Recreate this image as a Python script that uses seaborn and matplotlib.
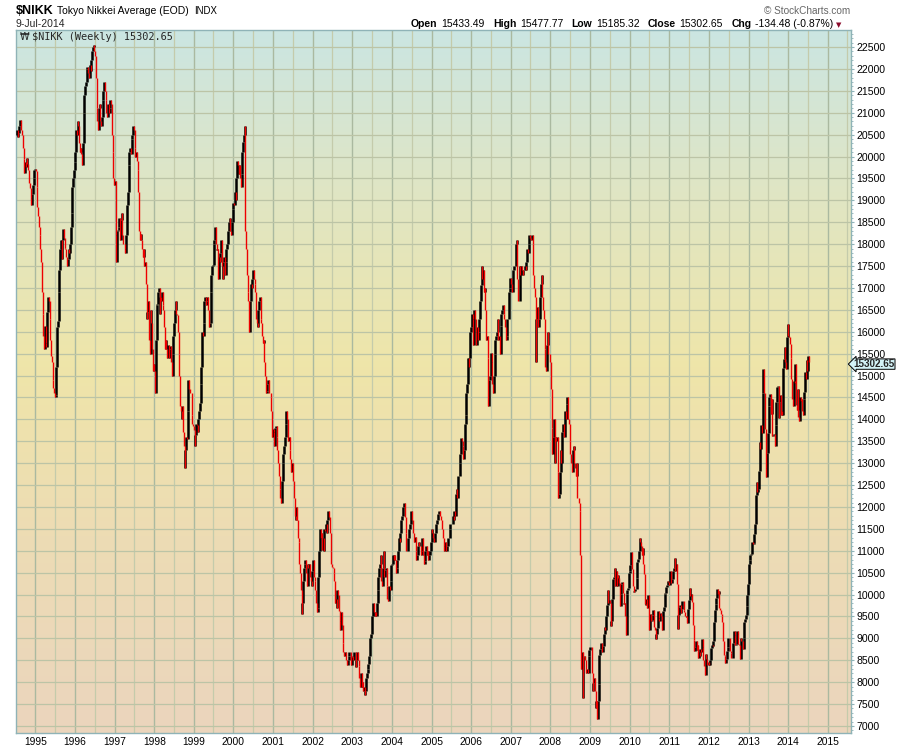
import numpy as np
import pandas as pd
import seaborn as sns
import matplotlib
matplotlib.use('Agg')
import matplotlib.pyplot as plt
import matplotlib.dates as mdates
from matplotlib.colors import LinearSegmentedColormap
from matplotlib.ticker import MultipleLocator

# header texts
SYMBOL = '$NIKK'
NAME = 'Tokyo Nikkei Average (EOD)'
EXCHANGE = 'INDX'
AS_OF = '9-Jul-2014'
COPYRIGHT = '\u00a9 StockCharts.com'
quote_labels = ['Open', 'High', 'Low', 'Close', 'Chg']
quote_values = ['15433.49', '15477.77', '15185.32', '15302.65', '-134.48 (-0.87%)']
series_label = '$NIKK (Weekly) 15302.65'
last_price_text = '15302.65'

# weekly closes (first week ends 1994-07-15, last 2014-07-11)
first_open = 20500
close_1994 = [20610, 20450, 20530, 20690, 20830, 20760, 20600, 20500, 20200, 19950, 19620, 19880,
              19750, 19960, 19820, 19690, 19400, 19280, 19050, 18900, 19150, 19360, 19520, 19700, 19723]
close_1995 = [19680, 19300, 18840, 18650, 18400, 18200, 17900, 17600, 16900, 16400, 15900, 15600, 16140,
              15750, 15650, 16450, 16800, 16700, 16300, 15800, 15450, 15300, 14900, 14720, 14600, 14520,
              14550, 15200, 16100, 16250, 16900, 17400, 17900, 18100, 17650, 18100, 18350, 18150, 17910,
              17900, 17700, 17500, 17650, 17900, 17800, 18000, 18400, 18700, 19300, 19500, 19700, 19868]
close_1996 = [20100, 20600, 20500, 20800, 20700, 20300, 20100, 20200, 20050, 19800, 20300, 21000, 21400,
              21600, 21700, 22000, 22050, 21900, 21800, 22100, 21950, 22200, 22400, 22500, 22550, 22400,
              22300, 21800, 21100, 20800, 20600, 21100, 21200, 20800, 20700, 20900, 21300, 21500, 21700,
              21500, 21300, 21000, 20900, 21200, 21000, 21100, 21300, 21200, 20500, 20100, 19500, 19361]
close_1997 = [19446, 18200, 17600, 18300, 18330, 18400, 18600, 18100, 18550, 18700, 18200, 18000, 18003,
              17900, 17800, 18200, 18900, 19200, 19800, 20100, 20200, 20068, 20400, 20500, 20700, 20600,
              20200, 20000, 20100, 19900, 19700, 19200, 18300, 18100, 18230, 18100, 17900, 17700, 17900,
              17500, 17600, 17100, 16300, 16450, 16700, 15800, 15500, 16500, 16200, 15600, 15100, 15258]
close_1998 = [15100, 14600, 15800, 16600, 16628, 16900, 17000, 16400, 16800, 16700, 16900, 16600, 16500,
              16100, 15600, 15800, 15600, 15400, 15700, 15400, 15600, 15670, 15300, 15000, 15500, 15900,
              16200, 16500, 16700, 16400, 16380, 16000, 15500, 15000, 14300, 14200, 14000, 14300, 13700,
              13400, 12900, 13300, 13600, 13560, 14200, 14900, 14700, 14600, 14600, 14100, 13900, 13842]
close_1999 = [13750, 13400, 13650, 13900, 13860, 13700, 14000, 14200, 14370, 14800, 15200, 16000, 15900,
              16200, 16700, 16800, 16600, 16700, 16800, 16500, 16100, 16200, 16900, 17300, 17500, 17530,
              18000, 18100, 18400, 18000, 17860, 17900, 17200, 17700, 17600, 17800, 18100, 17500, 17200,
              17600, 17700, 17300, 17600, 17900, 18000, 18300, 18500, 18600, 18300, 18200, 18500, 18800, 18934]
close_2000 = [18900, 19200, 19000, 19500, 19900, 19800, 19600, 19800, 19500, 19300, 19600, 20100, 20337,
              20500, 20700, 18300, 17900, 17300, 16900, 16700, 16000, 16700, 17100, 17000, 17200, 17411,
              17200, 17100, 16900, 16300, 16200, 16100, 16500, 16700, 16800, 16300, 16200, 15900, 15747,
              15800, 15300, 15000, 14600, 14650, 14800, 14900, 14600, 14600, 14500, 14200, 13600, 13786]
close_2001 = [13700, 13400, 13800, 13850, 13600, 13300, 13000, 12700, 12400, 12200, 12100, 12600, 12999,
              13200, 13400, 13600, 13900, 14200, 14000, 13500, 13600, 13300, 13100, 12800, 13000, 12969,
              12600, 12200, 11800, 11700, 12000, 11700, 11300, 11200, 10700, 10500, 10100, 9550, 9800,
              10300, 10600, 10700, 10800, 10500, 10200, 10700, 10600, 10700, 10400, 10300, 10200, 10543]
close_2002 = [10800, 10400, 10300, 10100, 9800, 9600, 9700, 10400, 11000, 11500, 11300, 11400, 11025,
              11300, 11000, 11500, 11450, 11600, 11400, 11700, 11900, 11764, 11400, 11000, 10700, 10621,
              10600, 10500, 10300, 9800, 9900, 9700, 10100, 10000, 9620, 9400, 9200, 9600, 9300,
              8900, 8700, 8600, 8700, 8700, 8500, 8400, 8500, 8600, 8700, 8700, 8400, 8578]
close_2003 = [8600, 8500, 8700, 8700, 8340, 8500, 8700, 8500, 8360, 8100, 7900, 8200, 7900,
              8000, 7800, 7900, 7700, 7800, 8100, 8200, 8300, 8425, 8600, 9000, 9100, 9100,
              9500, 9800, 9600, 9500, 9600, 9500, 9800, 10100, 10400, 10600, 10700, 10900, 10300,
              10200, 10600, 11000, 10400, 10560, 10600, 10200, 9900, 9850, 10200, 10100, 10300, 10676]
close_2004 = [10700, 10900, 10800, 10900, 10780, 10500, 10600, 10800, 11000, 11300, 11200, 11400, 11700,
              11800, 12000, 12000, 12100, 11760, 11400, 11000, 11000, 11300, 11500, 11500, 11600, 11900,
              11700, 11400, 11400, 11200, 11325, 11000, 10800, 10900, 11100, 11200, 11100, 11100, 10900,
              11000, 11300, 10900, 10700, 10770, 11000, 11100, 10900, 11000, 10800, 10900, 11000, 11200, 11489]
close_2005 = [11400, 11300, 11200, 11400, 11400, 11600, 11700, 11700, 11850, 11900, 11800, 11700,
              11700, 11500, 11300, 11100, 11000, 11200, 11000, 11000, 11100, 11300, 11300, 11500, 11600,
              11600, 11600, 11800, 11700, 11900, 11800, 12300, 12400, 12200, 12700, 12700, 13000, 13200, 13574,
              13500, 13400, 13100, 13300, 13900, 14100, 14600, 14800, 15400, 15200, 15400, 16000, 16111]
close_2006 = [16400, 16300, 15700, 16500, 16300, 16000, 15700, 16100, 15800, 16000, 16300, 16700, 17059,
              17500, 17200, 17400, 16900, 17000, 16500, 15800, 15900, 15400, 14300, 14900, 15000, 15505,
              15300, 14800, 14600, 15000, 15500, 15800, 15900, 16000, 16300, 15800, 15900, 15500, 16127,
              16400, 16500, 16600, 16400, 16300, 16100, 15800, 15900, 16300, 16300, 16900, 17000, 17225]
close_2007 = [17100, 16900, 17400, 17400, 17500, 17500, 18000, 18100, 17200, 16700, 16700, 17500, 17288,
              17500, 17400, 17300, 17400, 17400, 17500, 17400, 17600, 17900, 17800, 18000, 18200, 18138,
              18100, 18200, 18000, 17300, 17000, 16800, 15300, 16300, 16570, 16100, 16100, 16300, 16786,
              17100, 17300, 16800, 16500, 16300, 15600, 15200, 15100, 15700, 16000, 15500, 15500, 15308]
close_2008 = [14700, 13800, 13200, 13600, 14000, 13000, 13600, 13500, 13600, 12800, 12200, 12300, 12800,
              13300, 13000, 13700, 13900, 13900, 13600, 14200, 14000, 14339, 14500, 14000, 13900, 13500,
              13200, 13000, 12800, 13300, 13400, 13000, 12900, 12700, 13000, 12200, 12200, 12100, 11900,
              10900, 8300, 8700, 7650, 8580, 8600, 8500, 8300, 8200, 8300, 8200, 8600, 8740]
close_2009 = [8800, 8800, 8200, 7800, 7990, 8100, 7800, 7400, 7570, 7170, 7570, 7950, 8630,
              8750, 8900, 8900, 8700, 8830, 9100, 9260, 9200, 9520, 9770, 10100, 9800, 9880,
              9800, 9290, 9400, 9900, 10360, 10400, 10600, 10200, 10530, 10200, 10440, 10370, 10270,
              9730, 10020, 10250, 10280, 10030, 9790, 9800, 9500, 9080, 10020, 10100, 10140, 10490]
close_2010 = [10546, 10680, 10980, 10590, 10200, 10060, 10090, 10120, 10130, 10370, 10750, 10820, 10990,
              11290, 11200, 11100, 10910, 11060, 10700, 10460, 9780, 9770, 9900, 9700, 10000, 9740,
              9200, 9550, 9400, 9430, 9540, 9640, 9250, 9180, 8990, 9110, 9240, 9630, 9470,
              9400, 9590, 9500, 9430, 9200, 9630, 9720, 10020, 10040, 10180, 10210, 10300, 10280, 10229]
close_2011 = [10540, 10500, 10270, 10360, 10540, 10600, 10840, 10530, 10690, 10250, 9210, 9540,
              9710, 9770, 9590, 9680, 9850, 9860, 9650, 9610, 9520, 9490, 9520, 9350, 9680,
              9870, 10140, 9970, 10010, 9830, 9300, 8960, 8720, 8800, 8950, 8740, 8860, 8560, 8700,
              8600, 8750, 8680, 8990, 8800, 8510, 8370, 8160, 8640, 8540, 8400, 8400, 8455]
close_2012 = [8390, 8500, 8770, 8840, 8830, 8950, 9380, 9650, 9780, 9930, 10130, 10010, 10080,
              9690, 9640, 9560, 9520, 9380, 8950, 8610, 8590, 8440, 8540, 8720, 8800, 9010,
              9020, 8720, 8670, 8560, 8560, 8890, 9160, 9070, 8840, 8870, 9160, 9110, 8870,
              8860, 8530, 9000, 8930, 8950, 8760, 9020, 9370, 9450, 9530, 9740, 10000, 10230]
close_2013 = [10690, 10800, 10910, 10930, 11190, 11150, 11170, 11390, 11610, 12280, 12560, 12340, 12400,
              12830, 13490, 13320, 13880, 13690, 14610, 15140, 14610, 13770, 12880, 12690, 13230, 13680,
              14310, 14510, 14590, 14130, 14470, 13620, 13650, 13660, 13390, 13860, 14400, 14740, 14760,
              14020, 14400, 14560, 14090, 14200, 14090, 15170, 15380, 15660, 15300, 15150, 15870, 16180]
close_2014 = [15910, 15880, 15730, 15390, 14910, 14460, 14310, 14870, 14840, 15270, 14330, 14220, 14700,
              14060, 13960, 14520, 14430, 14460, 14200, 14100, 14460, 14630, 15080, 14930, 15350, 15100,
              15440, 15302.65]

closes = (close_1994 + close_1995 + close_1996 + close_1997 + close_1998 + close_1999 + close_2000
          + close_2001 + close_2002 + close_2003 + close_2004 + close_2005 + close_2006 + close_2007
          + close_2008 + close_2009 + close_2010 + close_2011 + close_2012 + close_2013 + close_2014)

df = pd.DataFrame({
    'week': pd.date_range(end='2014-07-11', periods=len(closes), freq='W-FRI'),
    'close': closes,
})
df['open'] = df['close'].shift(1).fillna(first_open)
df['low'] = df[['open', 'close']].min(axis=1)
df['high'] = df[['open', 'close']].max(axis=1)
df['up'] = df['close'] >= df['open']
df['x'] = mdates.date2num(df['week'])

sns.set_theme(style='white')
plt.rcParams['font.family'] = ['Liberation Sans', 'DejaVu Sans']

W, H = 900, 750
fig = plt.figure(figsize=(W / 100, H / 100), dpi=100)
fig.patch.set_facecolor('white')
rect = [16 / W, 1 - 733 / H, (850.5 - 16) / W, (733 - 30) / H]

# gradient background
bg = fig.add_axes(rect, zorder=0)
bg_cmap = LinearSegmentedColormap.from_list('stockcharts', [
    (0.0, '#ebd5bd'), (0.28, '#eddcb4'), (0.52, '#efe5a9'), (0.78, '#dfe6c5'), (1.0, '#cbe5e2')])
bg.imshow(np.linspace(0, 1, 256).reshape(-1, 1), cmap=bg_cmap, aspect='auto', origin='lower',
          extent=[0, 1, 0, 1])
bg.axis('off')

ax = fig.add_axes(rect, zorder=1)
ax.set_facecolor('none')

up = df[df['up']]
down = df[~df['up']]
ax.vlines(up['x'], up['low'], up['high'], colors='black', lw=1.8, zorder=3)
ax.vlines(down['x'], down['low'], down['high'], colors='#ee0000', lw=1.0, zorder=3)

ax.set_xlim(mdates.date2num(pd.Timestamp('1994-07-07')), mdates.date2num(pd.Timestamp('2015-07-29')))
ax.set_ylim(6840, 22888)

ax.xaxis.set_major_locator(mdates.YearLocator())
ax.xaxis.set_minor_locator(mdates.MonthLocator(bymonth=7))
ax.xaxis.set_major_formatter(mdates.DateFormatter('%Y'))
ax.yaxis.set_major_locator(MultipleLocator(500))
ax.yaxis.set_minor_locator(MultipleLocator(100))
ax.yaxis.tick_right()

ax.set_axisbelow(True)
ax.grid(which='major', axis='x', color='#aab9a0', lw=1.0)
ax.grid(which='minor', axis='x', color='#c4cbab', lw=0.9)
ax.grid(which='major', axis='y', color='#bcc4a6', lw=0.9)

ax.tick_params(axis='x', which='both', length=0, pad=3, labelsize=7.4, colors='black')
ax.tick_params(axis='y', which='major', length=2.5, width=0.8, color='#8fb3b7', pad=1.5,
               labelsize=7.6, labelcolor='black', left=False, right=True)
ax.tick_params(axis='y', which='minor', length=1.2, width=0.6, color='#8fb3b7', left=False, right=True)
for sp in ax.spines.values():
    sp.set_color('#8fb3b7')
    sp.set_linewidth(1.0)

# last price flag on the right axis
ax.annotate(last_price_text, xy=(1.0, closes[-1]), xycoords=('axes fraction', 'data'),
            xytext=(2.2, -1.3), textcoords='offset points', ha='left', va='center',
            fontsize=7.1, fontweight='bold', annotation_clip=False, zorder=5,
            bbox=dict(boxstyle='larrow,pad=0.02', fc='#d4f3f7', ec='black', lw=0.7))

renderer = fig.canvas.get_renderer()


def run_text(x_px, y_px, runs):
    for s, size, weight, color, gap in runs:
        t = fig.text(x_px / W, 1 - y_px / H, s, fontsize=size, fontweight=weight,
                     color=color, ha='left', va='baseline')
        x_px += t.get_window_extent(renderer=renderer).width + gap
    return x_px


run_text(16, 14.5, [(SYMBOL, 9, 'bold', 'black', 3.5),
                    (NAME, 7.5, 'normal', 'black', 5),
                    (EXCHANGE, 6.9, 'normal', 'black', 0)])
fig.text(16 / W, 1 - 27 / H, AS_OF, fontsize=7.5, va='baseline')
fig.text(850 / W, 1 - 14.5 / H, COPYRIGHT, fontsize=7.2, color='#666666', ha='right', va='baseline')

runs = []
for lab, val in zip(quote_labels, quote_values):
    runs.append((lab, 7.5, 'bold', 'black', 3.5))
    runs.append((val, 7.5, 'normal', 'black', 8.5))
end_x = run_text(411, 27, runs)
fig.text((end_x - 6) / W, 1 - 27 / H, '\u25bc', fontsize=5, color='#8b0a2a',
         family='DejaVu Sans', va='baseline')

fig.text(20 / W, 1 - 40 / H, '\u20a9', fontsize=7, family='DejaVu Sans', va='baseline')
fig.text(32 / W, 1 - 40 / H, series_label, fontsize=7.4, family='DejaVu Sans Mono', va='baseline')

fig.savefig('out.png', dpi=100)
